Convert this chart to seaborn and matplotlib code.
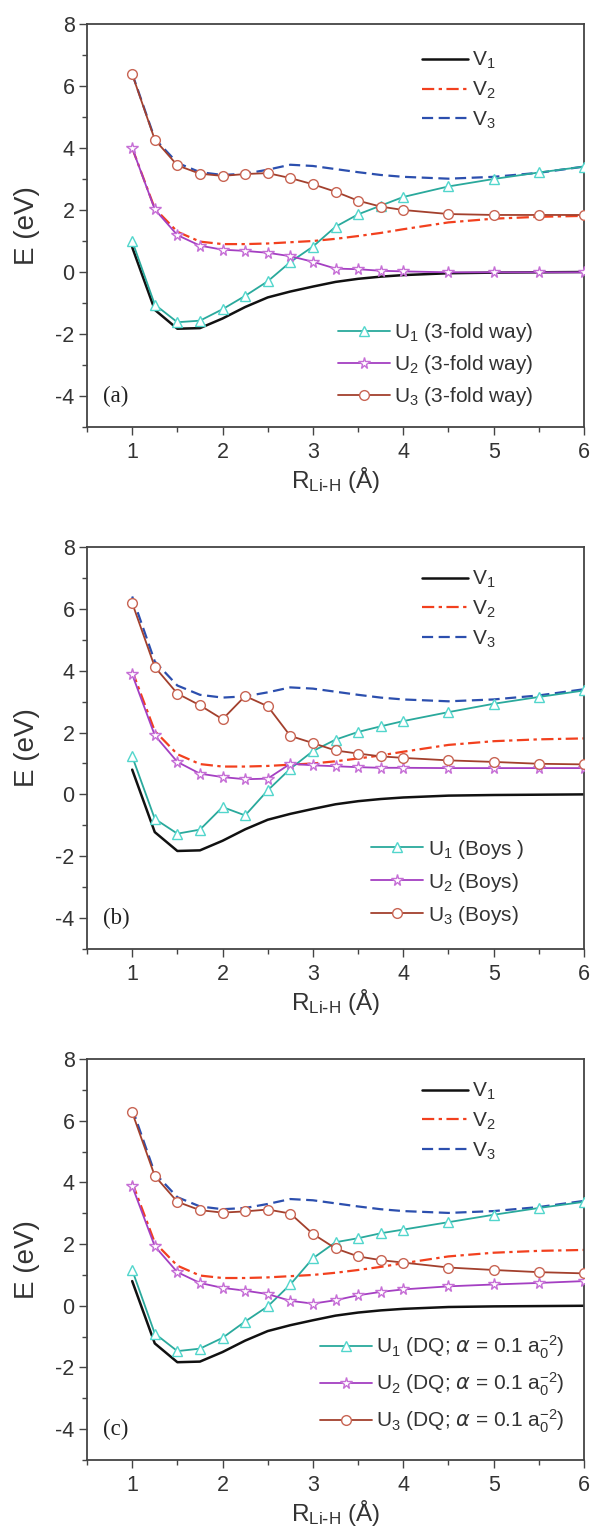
import numpy as np
import matplotlib
matplotlib.use("Agg")
import matplotlib.pyplot as plt
from matplotlib.ticker import MultipleLocator
import seaborn as sns

# Li-H bond length grid (angstrom)
r_grid = [1.0, 1.25, 1.5, 1.75, 2.0, 2.25, 2.5, 2.75, 3.0, 3.25, 3.5, 3.75, 4.0, 4.5, 5.0, 5.5, 6.0]

# adiabatic potentials (eV)
v1 = [0.80, -1.22, -1.83, -1.81, -1.50, -1.13, -0.82, -0.63, -0.47, -0.32, -0.22, -0.15, -0.10, -0.04, -0.02, -0.01, 0.00]
v2 = [4.00, 2.05, 1.30, 0.98, 0.90, 0.90, 0.92, 0.96, 1.00, 1.07, 1.16, 1.26, 1.38, 1.60, 1.72, 1.78, 1.81]
v3 = [6.40, 4.30, 3.52, 3.22, 3.13, 3.17, 3.30, 3.46, 3.42, 3.32, 3.22, 3.13, 3.07, 3.01, 3.07, 3.20, 3.40]

# diabatic potentials, 3-fold way
u1_a = [1.00, -1.05, -1.62, -1.57, -1.20, -0.77, -0.30, 0.32, 0.82, 1.46, 1.86, 2.14, 2.42, 2.76, 3.00, 3.21, 3.40]
u2_a = [4.00, 2.02, 1.19, 0.85, 0.72, 0.68, 0.62, 0.51, 0.33, 0.11, 0.09, 0.04, 0.02, -0.01, -0.01, -0.01, -0.01]
u3_a = [6.38, 4.27, 3.44, 3.17, 3.10, 3.16, 3.19, 3.03, 2.83, 2.59, 2.30, 2.11, 2.00, 1.87, 1.84, 1.84, 1.84]

# diabatic potentials, Boys localization
u1_b = [1.23, -0.79, -1.27, -1.14, -0.41, -0.68, 0.13, 0.83, 1.40, 1.77, 2.02, 2.20, 2.37, 2.66, 2.93, 3.15, 3.36]
u2_b = [3.88, 1.91, 1.05, 0.67, 0.56, 0.49, 0.51, 0.99, 0.94, 0.91, 0.88, 0.86, 0.86, 0.85, 0.85, 0.85, 0.85]
u3_b = [6.19, 4.12, 3.26, 2.88, 2.43, 3.18, 2.85, 1.89, 1.66, 1.42, 1.32, 1.23, 1.18, 1.10, 1.05, 0.99, 0.97]

# diabatic potentials, DQ with alpha = 0.1 a0^-2
u1_c = [1.16, -0.90, -1.47, -1.39, -1.04, -0.51, -0.02, 0.69, 1.54, 2.06, 2.19, 2.35, 2.47, 2.71, 2.95, 3.17, 3.37]
u2_c = [3.88, 1.93, 1.09, 0.74, 0.58, 0.49, 0.38, 0.16, 0.07, 0.18, 0.34, 0.45, 0.53, 0.63, 0.69, 0.74, 0.80]
u3_c = [6.27, 4.21, 3.37, 3.10, 3.02, 3.06, 3.12, 2.99, 2.33, 1.86, 1.60, 1.48, 1.40, 1.24, 1.16, 1.09, 1.05]

v_labels = ["V$_1$", "V$_2$", "V$_3$"]
u_labels_a = ["U$_1$ (3-fold way)", "U$_2$ (3-fold way)", "U$_3$ (3-fold way)"]
u_labels_b = ["U$_1$ (Boys )", "U$_2$ (Boys)", "U$_3$ (Boys)"]
u_labels_c = ["U$_1$ (DQ; $\\mathit{\\alpha}$ = 0.1 a$_0^{-2}$)",
              "U$_2$ (DQ; $\\mathit{\\alpha}$ = 0.1 a$_0^{-2}$)",
              "U$_3$ (DQ; $\\mathit{\\alpha}$ = 0.1 a$_0^{-2}$)"]
panel_tags = ["(a)", "(b)", "(c)"]

sns.set_theme(style="ticks")
plt.rcParams["font.family"] = ["Liberation Sans", "DejaVu Sans"]
plt.rcParams["mathtext.default"] = "regular"
plt.rcParams["axes.unicode_minus"] = False

W, H = 593, 1531
fig = plt.figure(figsize=(W / 100, H / 100), dpi=100)
fig.patch.set_facecolor("white")

# axes boxes in pixels: left, top, right, bottom
boxes = [(87, 24, 584, 427), (87, 547, 584, 949), (87, 1059, 584, 1460)]

v_styles = [
    dict(color="#111111", lw=1.8, ls="-"),
    dict(color="#f2401e", lw=1.6, ls=(0, (5.5, 2, 1.5, 2))),
    dict(color="#2c4fae", lw=1.6, ls=(0, (5, 2.5))),
]
u_styles = [
    dict(color="#2aa99c", marker="^", ms=7, mec="#52d6cc"),
    dict(color="#a43fc2", marker="*", ms=8.5, mec="#c66fd6"),
    dict(color="#a3402d", marker="o", ms=7, mec="#c86453"),
]

u_sets = [(u1_a, u2_a, u3_a, u_labels_a),
          (u1_b, u2_b, u3_b, u_labels_b),
          (u1_c, u2_c, u3_c, u_labels_c)]
# legend anchors (axes fraction, upper-left corner)
v_leg_pos = [(0.675, 0.935), (0.675, 0.945), (0.675, 0.945)]
u_leg_pos = [(0.505, 0.262), (0.572, 0.277), (0.468, 0.316)]
u_leg_spacing = [0.42, 0.48, 0.48]

for k, (l, t, r, b) in enumerate(boxes):
    ax = fig.add_axes([l / W, 1 - b / H, (r - l) / W, (b - t) / H])
    ax.set_facecolor("white")
    v_handles = []
    for vals, st, lab in zip([v1, v2, v3], v_styles, v_labels):
        sns.lineplot(x=r_grid, y=vals, ax=ax, color=st["color"], linewidth=st["lw"],
                     label=lab, legend=False)
        line = ax.lines[-1]
        line.set_linestyle(st["ls"])
        v_handles.append(line)
    u_handles = []
    u1, u2, u3, ulabs = u_sets[k]
    for vals, st, lab in zip([u1, u2, u3], u_styles, ulabs):
        sns.lineplot(x=r_grid, y=vals, ax=ax, color=st["color"], linewidth=1.3,
                     marker=st["marker"], markersize=st["ms"], markerfacecolor="white",
                     markeredgecolor=st["mec"], markeredgewidth=1.0,
                     label=lab, legend=False, zorder=3)
        u_handles.append(ax.lines[-1])

    ax.set_xlim(0.5, 6)
    ax.set_ylim(-5, 8)
    ax.xaxis.set_major_locator(MultipleLocator(1))
    ax.xaxis.set_minor_locator(MultipleLocator(0.5))
    ax.yaxis.set_major_locator(MultipleLocator(2))
    ax.yaxis.set_minor_locator(MultipleLocator(1))
    ax.tick_params(which="both", direction="out", top=False, right=False,
                   color="#444444", width=1.0, labelcolor="#333333")
    ax.tick_params(which="major", length=6, labelsize=15.5)
    ax.tick_params(axis="x", which="major", pad=5)
    ax.tick_params(axis="y", which="major", pad=3)
    ax.tick_params(which="minor", length=3.5)
    for sp in ax.spines.values():
        sp.set_color("#444444")
        sp.set_linewidth(1.3)

    ax.set_ylabel("E (eV)", fontsize=20, color="#333333")
    ax.yaxis.set_label_coords(-0.094, 0.5)
    ax.set_xlabel("R$_{\\mathregular{Li\\text{-}H}}$ (Å)", fontsize=17.5,
                  color="#333333", labelpad=1)

    ax.text(0.68, -4, panel_tags[k], fontsize=16.5, family="Liberation Serif",
            ha="left", va="center", color="#222222")

    leg_v = ax.legend(handles=v_handles, labels=v_labels, loc="upper left",
                      bbox_to_anchor=v_leg_pos[k], frameon=False, fontsize=15,
                      handlelength=2.2, handletextpad=0.2, labelspacing=0.4,
                      borderpad=0, borderaxespad=0)
    for txt in leg_v.get_texts():
        txt.set_color("#333333")
    ax.add_artist(leg_v)
    leg_u = ax.legend(handles=u_handles, labels=ulabs, loc="upper left",
                      bbox_to_anchor=u_leg_pos[k], frameon=False, fontsize=15,
                      handlelength=2.5, handletextpad=0.2, labelspacing=u_leg_spacing[k],
                      borderpad=0, borderaxespad=0)
    for txt in leg_u.get_texts():
        txt.set_color("#333333")

fig.savefig("out.png", dpi=100, facecolor="white")
